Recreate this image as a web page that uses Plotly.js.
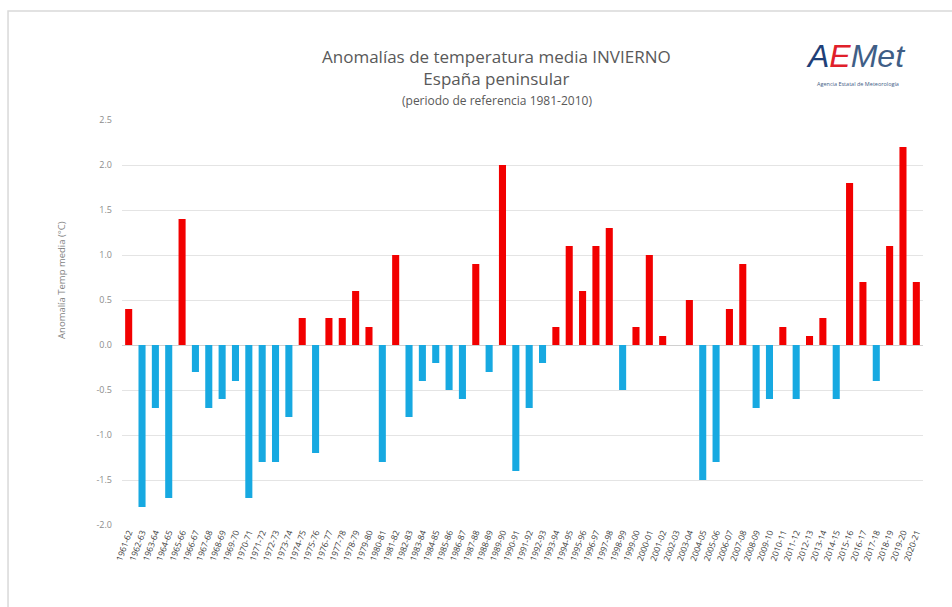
<!DOCTYPE html>
<html>
<head>
<meta charset="utf-8">
<script src="https://cdn.plot.ly/plotly-3.0.1.min.js"></script>
<style>
html,body{margin:0;padding:0;background:#fff;}
#chart{width:952px;height:607px;}
</style>
</head>
<body>
<div id="chart"></div>
<script>
const seasons = ["1961-62","1962-63","1963-64","1964-65","1965-66","1966-67","1967-68","1968-69","1969-70","1970-71",
"1971-72","1972-73","1973-74","1974-75","1975-76","1976-77","1977-78","1978-79","1979-80","1980-81",
"1981-82","1982-83","1983-84","1984-85","1985-86","1986-87","1987-88","1988-89","1989-90","1990-91",
"1991-92","1992-93","1993-94","1994-95","1995-96","1996-97","1997-98","1998-99","1999-00","2000-01",
"2001-02","2002-03","2003-04","2004-05","2005-06","2006-07","2007-08","2008-09","2009-10","2010-11",
"2011-12","2012-13","2013-14","2014-15","2015-16","2016-17","2017-18","2018-19","2019-20","2020-21"];
const anomalies = [0.4,-1.8,-0.7,-1.7,1.4,-0.3,-0.7,-0.6,-0.4,-1.7,
-1.3,-1.3,-0.8,0.3,-1.2,0.3,0.3,0.6,0.2,-1.3,
1.0,-0.8,-0.4,-0.2,-0.5,-0.6,0.9,-0.3,2.0,-1.4,
-0.7,-0.2,0.2,1.1,0.6,1.1,1.3,-0.5,0.2,1.0,
0.1,0.0,0.5,-1.5,-1.3,0.4,0.9,-0.7,-0.6,0.2,
-0.6,0.1,0.3,-0.6,1.8,0.7,-0.4,1.1,2.2,0.7];
const yTicks = [-2.0,-1.5,-1.0,-0.5,0.0,0.5,1.0,1.5,2.0,2.5];
const yTickLabels = ["-2.0","-1.5","-1.0","-0.5","0.0","0.5","1.0","1.5","2.0","2.5"];

const warm = "#f20000", cold = "#17a9e1";
const barColors = anomalies.map(v => v >= 0 ? warm : cold);

const trace = {
  type: "bar",
  x: seasons,
  y: anomalies,
  marker: {color: barColors},
  hoverinfo: "x+y"
};

const font = "Open Sans, Noto Sans, sans-serif";

const layout = {
  width: 952, height: 607,
  margin: {l: 122, r: 29, t: 120, b: 82},
  paper_bgcolor: "#ffffff",
  plot_bgcolor: "#ffffff",
  showlegend: false,
  bargap: 0.47,
  font: {family: font, color: "#595959"},
  xaxis: {
    type: "category",
    tickmode: "array",
    tickvals: seasons,
    ticktext: seasons,
    tickangle: -70,
    tickfont: {size: 8.5, color: "#404040", family: font},
    showgrid: false,
    showline: false,
    ticks: "",
    automargin: false
  },
  yaxis: {
    range: [-2.0, 2.5],
    tickmode: "array",
    tickvals: yTicks,
    ticktext: yTickLabels,
    tickfont: {size: 9, color: "#8c8c8c", family: font},
    ticklabelstandoff: 9,
    showgrid: true,
    gridcolor: "#e4e4e4",
    gridwidth: 1,
    zeroline: true,
    zerolinecolor: "#d0d0d0",
    zerolinewidth: 1,
    showline: false,
    ticks: "",
    ticklen: 0,
    automargin: false
  },
  shapes: [
    {type: "rect", xref: "paper", yref: "paper",
     x0: -0.1423, x1: 1.05, y0: -0.25, y1: 1.269,
     line: {color: "#d9d9d9", width: 1.5}, fillcolor: "rgba(0,0,0,0)", layer: "below"}
  ],
  annotations: [
    {text: "Anomalías de temperatura media INVIERNO<br>España peninsular", xref: "paper", yref: "paper",
     x: 0.468, y: (525-68)/405, xanchor: "center", yanchor: "middle", showarrow: false,
     font: {size: 17, color: "#595959", family: font}},
    {text: "(periodo de referencia 1981-2010)", xref: "paper", yref: "paper",
     x: 0.468, y: (525-101)/405, xanchor: "center", yanchor: "middle", showarrow: false,
     font: {size: 12, color: "#595959", family: font}},
    {text: "Anomalía Temp media (°C)", xref: "paper", yref: "paper",
     x: -0.075, y: 0.605, xanchor: "center", yanchor: "middle", textangle: -90, showarrow: false,
     font: {size: 9.5, color: "#7f7f7f", family: font}},
    // logo
    {text: "<i><span style='color:#1f3f78'>A</span><span style='color:#e0202a'>E</span><span style='color:#3f5e86'>Met</span></i>",
     xref: "paper", yref: "paper", x: (855-122)/801, y: (525-56)/405, xanchor: "center", yanchor: "middle",
     showarrow: false, font: {size: 32, color: "#3f5e86", family: "Liberation Sans"}},
    {text: "Agencia Estatal de Meteorología", xref: "paper", yref: "paper", x: (858-122)/801, y: (525-84)/405,
     xanchor: "center", yanchor: "middle", showarrow: false,
     font: {size: 5.5, color: "#3f5e86", family: font}}
  ]
};

Plotly.newPlot("chart", [trace], layout, {displayModeBar: false, staticPlot: true});
</script>
</body>
</html>
